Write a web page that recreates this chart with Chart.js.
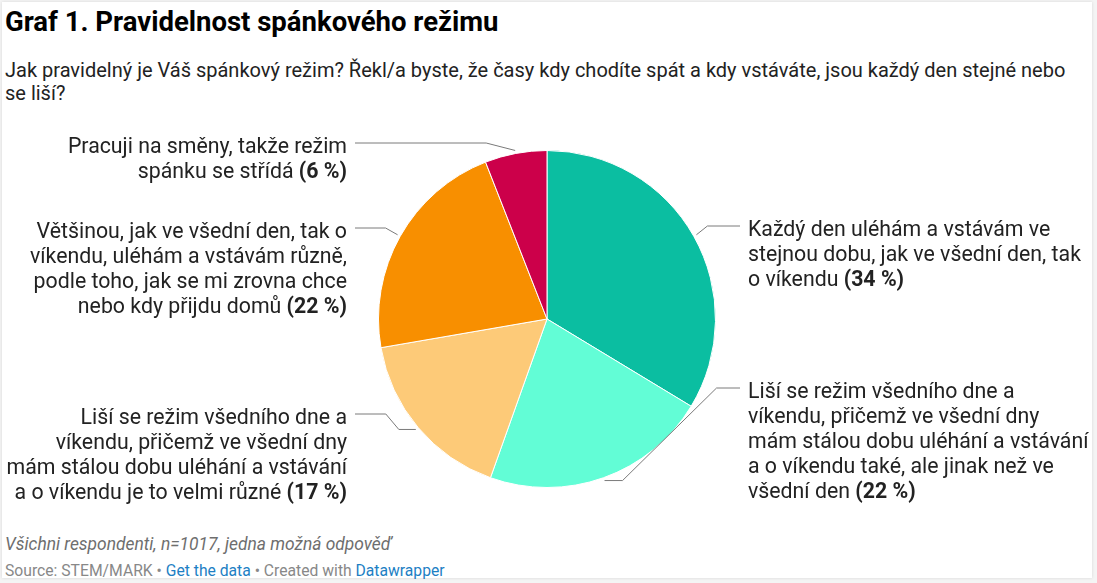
<!DOCTYPE html>
<html>
<head>
<meta charset="utf-8">
<script src="https://cdn.jsdelivr.net/npm/chart.js@4/dist/chart.umd.min.js"></script>
<style>
  body { margin: 0; background: #f4f4f4; font-family: Roboto, sans-serif; }
  #card { position: absolute; left: 2px; top: 2px; width: 1090px; height: 576px; background: #fff; box-shadow: 0 0 3px rgba(0,0,0,0.12); }
  #title { position: absolute; left: 3px; top: 3px; margin: 0; font-size: 27.5px; font-weight: 700; color: #000; white-space: nowrap; }
  #sub { position: absolute; left: 3px; top: 57px; font-size: 20px; line-height: 23px; color: #222; white-space: nowrap; }
  #note { position: absolute; left: 3px; top: 532px; font-size: 17.4px; font-style: italic; color: #6e6e6e; white-space: nowrap; }
  #src { position: absolute; left: 3px; top: 559px; font-size: 15.7px; color: #888; white-space: nowrap; }
  #src a { color: #1d7fc4; text-decoration: none; }
  #wrap { position: absolute; left: 0; top: 120px; width: 1094px; height: 398px; }
</style>
</head>
<body>
<div id="card">
  <h1 id="title">Graf 1. Pravidelnost spánkového režimu</h1>
  <div id="sub">Jak pravidelný je Váš spánkový režim? Řekl/a byste, že časy kdy chodíte spát a kdy vstáváte, jsou každý den stejné nebo<br>se liší?</div>
  <div id="note">Všichni respondenti, n=1017, jedna možná odpověď</div>
  <div id="src">Source: STEM/MARK • <a href="#">Get the data</a> • Created with <a href="#">Datawrapper</a></div>
</div>
<div id="wrap"><canvas id="canvas"></canvas></div>
<script>
const categories = [
    ['Každý den uléhám a vstávám ve', 'stejnou dobu, jak ve všední den, tak', 'o víkendu'],
    ['Liší se režim všedního dne a', 'víkendu, přičemž ve všední dny', 'mám stálou dobu uléhání a vstávání', 'a o víkendu také, ale jinak než ve', 'všední den'],
    ['Liší se režim všedního dne a', 'víkendu, přičemž ve všední dny', 'mám stálou dobu uléhání a vstávání', 'a o víkendu je to velmi různé'],
    ['Většinou, jak ve všední den, tak o', 'víkendu, uléhám a vstávám různě,', 'podle toho, jak se mi zrovna chce', 'nebo kdy přijdu domů'],
    ['Pracuji na směny, takže režim', 'spánku se střídá']
];
const values = [34, 22, 17, 22, 6];
const colors = ['#0bbea1', '#62fdd6', '#fdca78', '#f88f00', '#cc004a'];

// where each label sits and how its leader line bends
const labelLayout = [
    { y: 226, run: 0, diag: 11 },
    { y: 388, run: 18, diag: 94 },
    { y: 414, run: 17, diag: 13 },
    { y: 228, run: 0, diag: 12 },
    { y: 143, run: 0, diag: 29 }
];

const FONT = '21.3px Roboto';
const BOLD = 'bold 21.3px Roboto';

const ctx = document.getElementById('canvas').getContext('2d');

const chart = new Chart(ctx, {
    type: 'pie',
    data: {
        labels: categories.map(c => c.join(' ')),
        datasets: [{
            data: values,
            backgroundColor: colors,
            borderColor: '#ffffff',
            borderWidth: 1
        }]
    },
    options: {
        responsive: true,
        maintainAspectRatio: false,
        animation: false,
        layout: { padding: { top: 30, bottom: 30, left: 0, right: 0 } },
        plugins: {
            legend: { display: false },
            tooltip: { enabled: false }
        }
    },
    plugins: [{
        id: 'labels',
        afterDraw: (chart) => {
            const ctx = chart.ctx;
            const top = chart.canvas.getBoundingClientRect().top;
            const arcs = chart.getDatasetMeta(0).data;

            ctx.save();
            arcs.forEach((arc, i) => {
                const lay = labelLayout[i];
                const mid = (arc.startAngle + arc.endAngle) / 2;
                const right = Math.cos(mid) > 0;
                const s = right ? 1 : -1;
                const r = arc.outerRadius + 3;
                const x0 = arc.x + Math.cos(mid) * r;
                const y0 = arc.y + Math.sin(mid) * r;
                const ly = lay.y - top;
                const endX = right ? 740 : 355;

                ctx.strokeStyle = '#7a7a7a';
                ctx.lineWidth = 1;
                ctx.beginPath();
                ctx.moveTo(x0, y0);
                ctx.lineTo(x0 + s * lay.run, y0);
                ctx.lineTo(x0 + s * (lay.run + lay.diag), ly);
                ctx.lineTo(endX, ly);
                ctx.stroke();

                const lines = categories[i];
                const tx = right ? 748 : 347;
                const pct = ' (' + values[i] + ' %)';
                ctx.fillStyle = '#222';
                ctx.textBaseline = 'alphabetic';
                lines.forEach((line, k) => {
                    const y = ly + 9.5 + k * 25;
                    const last = k === lines.length - 1;
                    ctx.font = FONT;
                    if (right) {
                        ctx.textAlign = 'left';
                        ctx.fillText(line, tx, y);
                        if (last) {
                            const w = ctx.measureText(line).width;
                            ctx.font = BOLD;
                            ctx.fillText(pct, tx + w, y);
                        }
                    } else {
                        ctx.textAlign = 'right';
                        if (last) {
                            ctx.font = BOLD;
                            const w = ctx.measureText(pct).width;
                            ctx.fillText(pct, tx, y);
                            ctx.font = FONT;
                            ctx.fillText(line, tx - w, y);
                        } else {
                            ctx.fillText(line, tx, y);
                        }
                    }
                });
            });
            ctx.restore();
        }
    }]
});
</script>
</body>
</html>
